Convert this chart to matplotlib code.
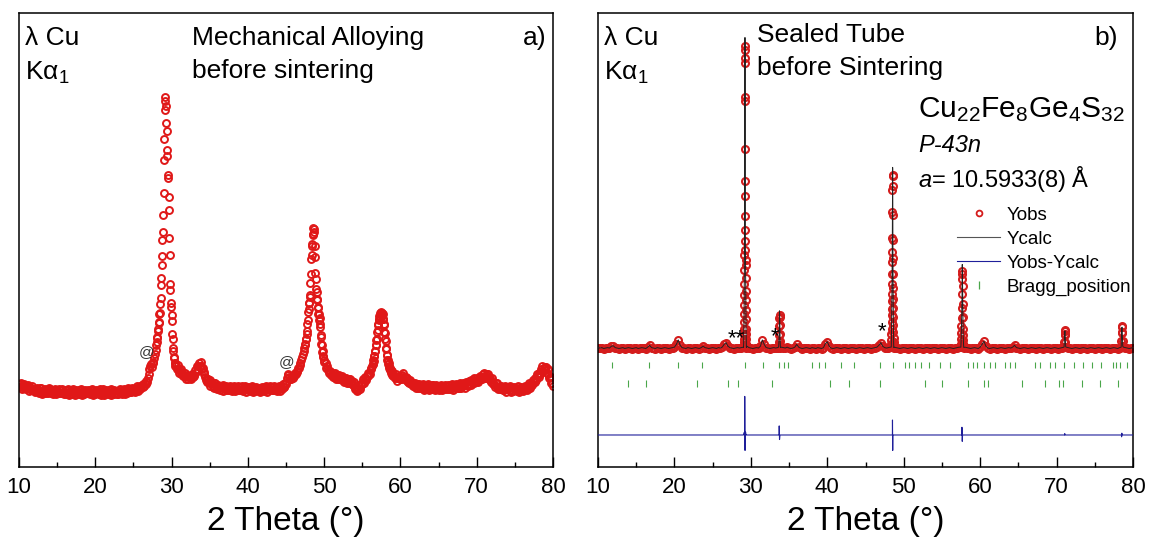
import numpy as np
import matplotlib
matplotlib.use("Agg")
import matplotlib.pyplot as plt
from matplotlib.lines import Line2D

# ----------------------------------------------------------------------------
# DATA (intensities in arbitrary units, full y-scale = 0..1000)
# ----------------------------------------------------------------------------
# Panel a) Mechanical alloying, before sintering : observed pattern, piecewise scans
a_range_1 = (10.0, 26.0)   # 0.1 deg step
a_counts_1 = [183, 176, 185, 178, 172, 180, 182, 174, 176, 171,
              179, 173, 180, 168, 175, 176, 169, 178, 171, 169,
              170, 165, 172, 175, 167, 169, 164, 173, 166, 174,
              161, 168, 170, 163, 172, 166, 164, 170, 163, 173,
              168, 171, 163, 166, 161, 170, 164, 172, 160, 167,
              169, 162, 171, 165, 163, 169, 162, 172, 165, 160,
              165, 160, 169, 163, 171, 159, 166, 168, 161, 170,
              161, 171, 164, 159, 167, 170, 162, 165, 160, 169,
              163, 171, 159, 166, 168, 161, 170, 164, 162, 168,
              170, 162, 165, 160, 169, 163, 171, 159, 166, 168,
              161, 170, 164, 162, 168, 161, 171, 164, 159, 167,
              171, 164, 159, 167, 170, 162, 165, 160, 169, 163,
              171, 159, 166, 168, 161, 170, 164, 162, 168, 161,
              160, 168, 171, 163, 166, 161, 170, 164, 172, 160,
              168, 170, 163, 173, 167, 165, 171, 165, 175, 168,
              167, 170, 166, 175, 170, 178, 167, 175, 178, 172,
              178]
a_range_2 = (26.2, 28.0)
a_counts_2 = [176, 183, 178, 186, 182, 190, 187, 196, 204, 215, 222, 226, 221, 229, 232, 241,
              248, 258, 268]
a_range_3 = (28.05, 30.5)
a_counts_3 = [275, 284, 286, 299, 303, 317, 320, 337, 340, 358, 372, 401, 416, 446, 464, 499,
              517, 556, 604, 676, 722, 786, 816, 806, 795, 758, 741, 698, 686, 644, 636, 594,
              566, 504, 466, 404, 390, 361, 353, 334, 321, 294, 283, 262, 256, 242, 240, 230,
              229, 222]
a_range_4 = (30.6, 45.0)   # 0.1 deg step
a_counts_4 = [225, 216, 224, 215, 207, 213, 215, 205, 207, 200,
              208, 201, 207, 194, 200, 201, 193, 201, 195, 194,
              200, 204, 198, 203, 201, 213, 210, 222, 213, 223,
              228, 223, 232, 223, 216, 217, 205, 210, 199, 191,
              194, 187, 194, 186, 192, 178, 184, 185, 177, 185,
              175, 184, 177, 171, 179, 181, 173, 176, 170, 179,
              173, 181, 168, 175, 177, 170, 179, 173, 170, 176,
              178, 170, 173, 168, 177, 171, 179, 167, 174, 176,
              169, 178, 172, 170, 176, 169, 179, 172, 167, 175,
              178, 171, 166, 174, 177, 169, 172, 167, 176, 170,
              178, 166, 173, 175, 168, 177, 171, 169, 175, 168,
              166, 174, 177, 169, 172, 167, 176, 170, 178, 166,
              174, 176, 169, 178, 172, 170, 176, 169, 179, 172,
              170, 173, 168, 177, 171, 179, 168, 175, 178, 172,
              182, 177, 177, 186, 182]
a_range_5 = (45.1, 47.5)
a_counts_5 = [196, 202, 205, 199, 194, 197, 193, 199, 196, 202, 200, 206, 204, 211, 210, 217,
              219, 224, 230, 236, 242, 248, 255, 262, 268]
a_range_6 = (47.55, 50.0)
a_counts_6 = [272, 281, 283, 294, 300, 316, 323, 341, 347, 361, 362, 375, 378, 405, 426, 459,
              466, 486, 491, 512, 514, 527, 524, 518, 486, 463, 428, 413, 391, 386, 370, 368,
              352, 350, 336, 337, 324, 328, 314, 309, 291, 287, 270, 268, 254, 255, 242, 244,
              232, 235]
a_range_7 = (50.2, 56.2)   # 0.1 deg step
a_counts_7 = [229, 217, 223, 213, 206, 211, 212, 202, 204, 198,
              206, 199, 206, 194, 200, 202, 194, 203, 197, 194,
              198, 200, 191, 193, 188, 196, 190, 197, 185, 191,
              193, 185, 193, 187, 183, 189, 180, 188, 176, 171,
              174, 167, 175, 170, 180, 171, 181, 186, 182, 193,
              186, 198, 194, 191, 201, 207, 201, 206, 205, 218,
              216]
a_range_8 = (56.3, 59.0)   # 0.05 deg step
a_counts_8 = [222, 227, 226, 235, 234, 244, 244, 255, 255, 268, 268, 280, 283, 298,
              302, 313, 314, 325, 323, 333, 331, 339, 335, 341, 336, 340, 333, 336, 326, 327,
              316, 313, 298, 296, 281, 278, 263, 261, 247, 246, 235, 236, 226, 228, 219, 222,
              214, 218, 211, 214, 207, 211, 203, 207, 201]
a_range_9 = (59.2, 80.0)   # 0.1 deg step
a_counts_9 = [203, 195, 204, 196, 190, 198, 200, 193, 197, 193,
              203, 198, 206, 193, 198, 198, 189, 196, 188, 185,
              189, 191, 182, 184, 178, 186, 179, 186, 174, 180,
              182, 174, 183, 177, 174, 180, 173, 183, 175, 170,
              176, 171, 180, 174, 182, 170, 176, 178, 171, 180,
              171, 181, 174, 169, 177, 180, 172, 175, 170, 179,
              173, 181, 169, 176, 178, 171, 180, 174, 172, 178,
              180, 172, 175, 171, 180, 174, 182, 170, 178, 180,
              173, 182, 177, 175, 181, 174, 185, 178, 173, 182,
              186, 180, 175, 184, 187, 180, 183, 179, 189, 183,
              192, 181, 188, 191, 185, 195, 189, 188, 195, 189,
              188, 197, 201, 194, 198, 194, 204, 199, 208, 196,
              203, 204, 196, 204, 196, 192, 196, 187, 195, 186,
              182, 183, 176, 184, 177, 184, 171, 177, 178, 171,
              179, 173, 170, 176, 169, 179, 171, 166, 174, 177,
              176, 170, 178, 166, 173, 175, 168, 177, 171, 169,
              175, 168, 178, 171, 166, 174, 177, 169, 172, 167,
              175, 178, 171, 174, 170, 180, 175, 184, 173, 181,
              185, 180, 191, 187, 187, 195, 191, 204, 200, 198,
              207, 205, 216, 212, 222, 211, 219, 221, 213, 220,
              208, 215, 204, 195, 199, 198, 186, 186, 178]
a_marks_text = ["@", "@"]
a_marks_2theta = [26.78, 45.13]
a_marks_level = [253, 231]

# Panel b) Sealed tube, before sintering : Rietveld refinement
b_bg_range = (10.0, 80.0)          # background scan, 0.25 deg step
b_bg_obs = [263, 262, 263, 261, 262, 263, 262, 266, 267, 263, 262, 261, 262, 263, 261, 262, 263, 262, 261, 262,
            263, 261, 262, 263, 262, 261, 264, 268, 263, 262, 261, 263, 262, 261, 262, 263, 262, 261, 262, 263,
            264, 270, 280, 268, 263, 262, 261, 263, 262, 261, 262, 263, 262, 261, 263, 266, 263, 262, 261, 262,
            263, 262, 261, 263, 262, 264, 270, 274, 266, 263, 262, 261, 262, 263, 262, 263, 264, 264, 266, 263,
            262, 261, 262, 263, 262, 266, 280, 270, 263, 262, 261, 262, 263, 262, 263, 264, 264, 263, 262, 264,
            262, 261, 262, 264, 270, 264, 262, 261, 262, 263, 262, 261, 263, 262, 261, 263, 262, 261, 263, 272,
            276, 266, 262, 261, 262, 263, 262, 261, 262, 263, 262, 261, 262, 263, 262, 261, 262, 263, 262, 261,
            262, 263, 262, 261, 262, 263, 264, 268, 274, 266, 263, 262, 263, 264, 264, 264, 263, 262, 261, 262,
            263, 262, 261, 262, 263, 262, 261, 262, 263, 262, 261, 262, 263, 262, 261, 262, 263, 262, 261, 262,
            263, 262, 261, 262, 263, 262, 261, 262, 263, 264, 264, 264, 264, 263, 262, 261, 262, 263, 262, 261,
            264, 270, 277, 266, 262, 261, 262, 263, 262, 261, 262, 263, 262, 261, 262, 263, 262, 264, 268, 263,
            262, 261, 262, 263, 262, 261, 262, 263, 262, 261, 262, 263, 262, 261, 262, 263, 262, 261, 262, 263,
            262, 261, 262, 263, 264, 264, 263, 262, 261, 262, 263, 262, 261, 262, 263, 262, 261, 262, 263, 262,
            261, 262, 263, 262, 261, 262, 263, 262, 261, 262, 263, 262, 261, 263, 264, 264, 263, 262, 261, 262,
            263]
b_peak_ranges = [(29.04, 29.42), (33.63, 33.87), (48.37, 48.70), (57.48, 57.86), (70.98, 71.19), (78.45, 78.66)]
b_peak_obs = [
    [264, 268, 275, 283, 292, 304, 319, 338, 357, 379, 402, 433, 466, 497, 553, 629, 814, 900, 927, 919,
     889, 806, 701, 598, 523, 478, 455, 444, 417, 387, 368, 345, 326, 304, 292, 281, 272, 266, 263],
    [264, 268, 276, 290, 310, 328, 334, 330, 312, 292, 278, 268, 263],
    [264, 270, 280, 292, 304, 319, 334, 349, 365, 380, 402, 425, 451, 474, 504, 561, 610, 640, 644, 620,
     555, 500, 460, 425, 395, 370, 350, 330, 312, 298, 285, 275, 268, 263],
    [264, 272, 282, 295, 310, 328, 350, 380, 415, 432, 425, 398, 360, 330, 305, 290, 280, 272, 266, 263],
    [264, 275, 292, 302, 300, 290, 275, 265],
    [264, 278, 298, 311, 308, 295, 278, 266],
]
b_peak_calc = [
    [263, 267, 274, 282, 291, 302, 316, 334, 352, 374, 398, 428, 462, 500, 560, 640, 729, 870, 940, 946,
     923, 800, 700, 600, 525, 478, 452, 438, 414, 386, 366, 344, 325, 304, 292, 281, 272, 266, 263],
    [264, 268, 276, 290, 290, 320, 344, 336, 312, 292, 278, 268, 263],
    [264, 270, 280, 292, 304, 319, 334, 349, 365, 380, 402, 425, 451, 474, 504, 561, 577, 636, 660, 654,
     560, 500, 460, 425, 395, 370, 350, 330, 312, 298, 285, 275, 268, 263],
    [264, 272, 282, 295, 310, 328, 350, 363, 412, 446, 430, 398, 360, 330, 305, 290, 280, 272, 266, 263],
    [264, 275, 292, 299, 300, 290, 275, 265],
    [264, 278, 302, 307, 308, 295, 278, 266],
]
b_bragg_1 = [11.87, 16.70, 20.50, 23.65, 29.23, 31.63, 33.72, 34.38, 34.90, 37.96, 38.90, 39.70,
             41.76, 43.54, 46.94, 48.56, 50.13, 50.65, 51.52, 52.30, 53.27, 54.71, 56.10, 58.41,
             59.07, 59.60, 60.47, 61.26, 61.91, 63.30, 63.96, 64.61, 67.14, 67.88, 69.19, 69.77,
             71.02, 72.33, 73.43, 74.65, 75.86, 77.36, 77.79, 78.35, 79.23]
b_bragg_2 = [13.97, 16.24, 22.99, 27.05, 28.28, 32.73, 40.36, 42.88, 46.94, 52.82, 55.00, 58.41,
             60.47, 61.03, 65.48, 68.45, 70.36, 70.84, 73.33, 75.72, 78.04]
b_marks_text = ["**", "*", "*"]
b_marks_2theta = [28.06, 33.16, 47.16]
b_marks_level = [282, 286, 297]

x_ticks = [10, 20, 30, 40, 50, 60, 70, 80]

# ----------------------------------------------------------------------------
# STYLE
# ----------------------------------------------------------------------------
plt.rcParams['font.family'] = ['Liberation Sans', 'DejaVu Sans']
plt.rcParams['mathtext.fontset'] = 'custom'
plt.rcParams['mathtext.rm'] = 'Liberation Sans'
plt.rcParams['mathtext.it'] = 'Liberation Sans:italic'

RED_A = '#e01818'
RED_B = '#d41c1c'
GREEN = '#4aa64a'
NAVY = '#1f1f9a'

DIFF_OFFSET = 70.5
BRAGG_ROW_1 = 224.7
BRAGG_ROW_2 = 184.0
BRAGG_HALF = 7.3


def scan(rng, vals):
    return np.linspace(rng[0], rng[1], len(vals)), np.asarray(vals, dtype=float)


def style_axes(ax):
    ax.set_xlim(10, 80)
    ax.set_ylim(0, 1000)
    ax.set_yticks([])
    ax.set_xticks(x_ticks)
    ax.set_xticks(np.arange(15, 80, 10), minor=True)
    ax.tick_params(axis='x', which='major', direction='in', length=7, width=1.0,
                   labelsize=16, pad=7, top=False)
    ax.tick_params(axis='x', which='minor', direction='in', length=3.5, width=1.0, top=False)
    for sp in ax.spines.values():
        sp.set_linewidth(1.1)
    ax.set_xlabel('2 Theta (°)', fontsize=24, labelpad=6)


fig = plt.figure(figsize=(11.51, 5.37), dpi=100)
ax_a = fig.add_axes([19 / 1151, 70 / 537, 534 / 1151, 454 / 537])
ax_b = fig.add_axes([598 / 1151, 70 / 537, 535 / 1151, 454 / 537])

# ---------------------------- panel a ---------------------------------------
a_parts = [scan(r, v) for r, v in [(a_range_1, a_counts_1), (a_range_2, a_counts_2),
                                    (a_range_3, a_counts_3), (a_range_4, a_counts_4),
                                    (a_range_5, a_counts_5), (a_range_6, a_counts_6),
                                    (a_range_7, a_counts_7), (a_range_8, a_counts_8),
                                    (a_range_9, a_counts_9)]]
a_x = np.concatenate([p[0] for p in a_parts])
a_y = np.concatenate([p[1] for p in a_parts])
ax_a.plot(a_x, a_y, ls='none', marker='o', mfc='none', mec=RED_A, ms=5.0, mew=1.4)
for t, xx, yy in zip(a_marks_text, a_marks_2theta, a_marks_level):
    ax_a.text(xx, yy, t, fontsize=11, color='#333333', ha='center', va='center')

style_axes(ax_a)
txt = dict(transform=ax_a.transAxes, fontsize=19, color='black')
ax_a.text(0.011, 0.929, 'λ Cu', ha='left', va='baseline', **txt)
ax_a.text(0.011, 0.852, r'Kα$\mathregular{_1}$', ha='left', va='baseline', **txt)
ax_a.text(0.324, 0.929, 'Mechanical Alloying', ha='left', va='baseline', **txt)
ax_a.text(0.324, 0.856, 'before sintering', ha='left', va='baseline', **txt)
ax_a.text(0.987, 0.929, 'a)', ha='right', va='baseline', **txt)

# ---------------------------- panel b ---------------------------------------
bg_x, bg_y = scan(b_bg_range, b_bg_obs)
keep = np.ones_like(bg_x, dtype=bool)
for r in b_peak_ranges:
    keep &= ~((bg_x >= r[0] - 0.01) & (bg_x <= r[1] + 0.01))
bg_x, bg_y = bg_x[keep], bg_y[keep]

pk_x = np.concatenate([np.linspace(r[0], r[1], len(o)) for r, o in zip(b_peak_ranges, b_peak_obs)])
pk_obs = np.concatenate([np.asarray(o, float) for o in b_peak_obs])
pk_calc = np.concatenate([np.asarray(c, float) for c in b_peak_calc])

b_x = np.concatenate([bg_x, pk_x])
b_obs = np.concatenate([bg_y, pk_obs])
b_calc = np.concatenate([bg_y, pk_calc])
order = np.argsort(b_x)
b_x, b_obs, b_calc = b_x[order], b_obs[order], b_calc[order]
b_diff = b_obs - b_calc

ax_b.plot(b_x, b_obs, ls='none', marker='o', mfc='none', mec=RED_B, ms=5.0, mew=1.5, zorder=2)
ax_b.plot(b_x, b_calc, color='#222222', lw=0.7, zorder=3)
ax_b.plot(b_x, b_diff + DIFF_OFFSET, color=NAVY, lw=0.8, zorder=3)
ax_b.vlines(b_bragg_1, BRAGG_ROW_1 - BRAGG_HALF, BRAGG_ROW_1 + BRAGG_HALF, color=GREEN, lw=0.8)
ax_b.vlines(b_bragg_2, BRAGG_ROW_2 - BRAGG_HALF, BRAGG_ROW_2 + BRAGG_HALF, color=GREEN, lw=0.8)
for t, xx, yy in zip(b_marks_text, b_marks_2theta, b_marks_level):
    ax_b.text(xx, yy, t, fontsize=16, color='black', ha='center', va='center')

style_axes(ax_b)
txt = dict(transform=ax_b.transAxes, fontsize=19, color='black')
ax_b.text(0.011, 0.929, 'λ Cu', ha='left', va='baseline', **txt)
ax_b.text(0.011, 0.852, r'Kα$\mathregular{_1}$', ha='left', va='baseline', **txt)
ax_b.text(0.297, 0.937, 'Sealed Tube', ha='left', va='baseline', **txt)
ax_b.text(0.297, 0.864, 'before Sintering', ha='left', va='baseline', **txt)
ax_b.text(0.972, 0.929, 'b)', ha='right', va='baseline', **txt)
txt2 = dict(transform=ax_b.transAxes, fontsize=17, color='black', ha='left', va='baseline')
ax_b.text(0.598, 0.771, r'Cu$\mathregular{_{22}}$Fe$\mathregular{_8}$Ge$\mathregular{_4}$S$\mathregular{_{32}}$',
          transform=ax_b.transAxes, fontsize=21.5, color='black', ha='left', va='baseline')
ax_b.text(0.598, 0.694, 'P-43n', style='italic', **txt2)
ax_b.text(0.598, 0.617, r'$\mathit{a}$= 10.5933(8) Å', **txt2)

handles = [
    Line2D([], [], ls='none', marker='o', mfc='none', mec=RED_B, ms=4.2, mew=1.3),
    Line2D([], [], color='#555555', lw=0.8),
    Line2D([], [], color=NAVY, lw=0.8),
    Line2D([], [], ls='none', marker='|', color=GREEN, ms=6, mew=0.9),
]
ax_b.legend(handles, ['Yobs', 'Ycalc', 'Yobs-Ycalc', 'Bragg_position'],
            loc='upper left', bbox_to_anchor=(0.671, 0.573), frameon=False,
            fontsize=13.5, handlelength=2.3, handletextpad=0.35, labelspacing=0.36,
            borderpad=0, borderaxespad=0)

fig.savefig('out.png', dpi=100)
